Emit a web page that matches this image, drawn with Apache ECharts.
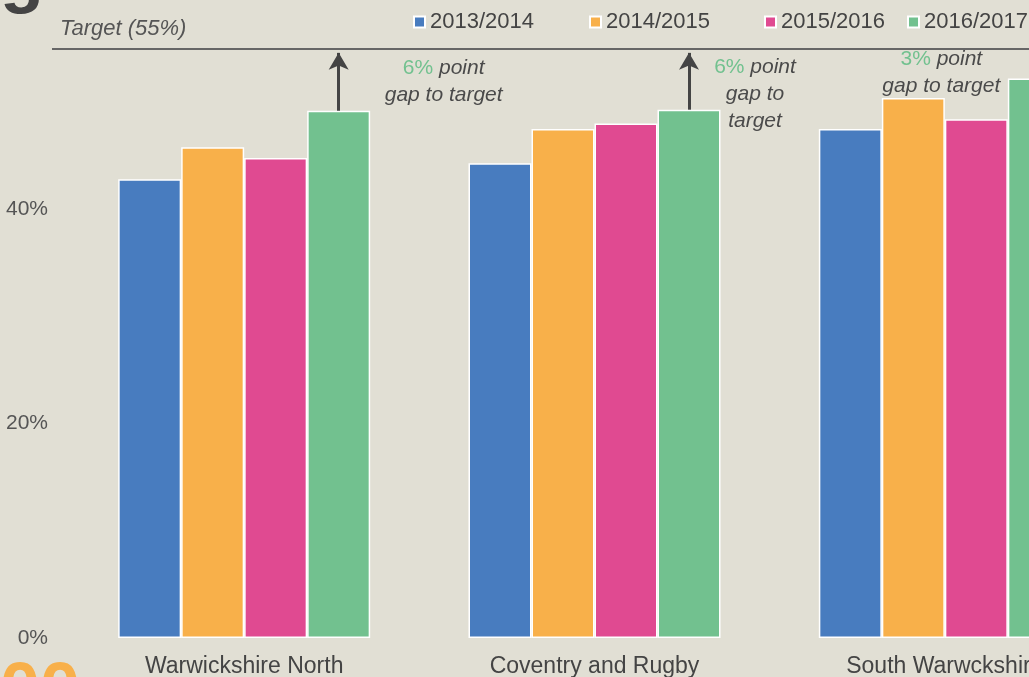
<!DOCTYPE html>
<html>
<head>
<meta charset="utf-8">
<script src="https://cdn.jsdelivr.net/npm/echarts@6/dist/echarts.min.js"></script>
<style>
html, body { margin: 0; padding: 0; background: #E1DFD4; }
#container { width: 1029px; height: 677px; }
</style>
</head>
<body>
<div id="container"></div>
<script>
var categories = ['Warwickshire North', 'Coventry and Rugby', 'South Warwckshire'];
var years = ['2013/2014', '2014/2015', '2015/2016', '2016/2017'];
var y2013 = [42.8, 44.3, 47.5];
var y2014 = [45.8, 47.5, 50.4];
var y2015 = [44.8, 48.0, 48.4];
var y2016 = [49.2, 49.3, 52.2];
var target = 55;
var gapText = ['{g|6%} point\ngap to target', '{g|6%} point\ngap to\ntarget', '{g|3%} point\ngap to target'];
var colors = ['#487CBF', '#F8B04A', '#E04A91', '#72C18F'];

var dom = document.getElementById("container");
var myChart = echarts.init(dom);
var font = 'Liberation Sans, Arial, sans-serif';

// arrows from the green bar up to the target line
var arrows = [];
var notes = [];
var noteOffsets = [[105, 33], [66, 46], [-98, 24]];
for (var i = 0; i < categories.length; i++) {
    arrows.push([
        { coord: [categories[i], y2016[i]] },
        { coord: [categories[i], target - 0.4] }
    ]);
    notes.push({
        coord: [categories[i], target],
        symbolSize: 0,
        label: { formatter: gapText[i], offset: noteOffsets[i] }
    });
}

var values = [y2013, y2014, y2015, y2016];
var series = [];
for (var s = 0; s < years.length; s++) {
    series.push({
        name: years[s],
        type: 'bar',
        data: values[s],
        barWidth: 63,
        barGap: '0%',
        clip: false,
        itemStyle: { color: colors[s], borderColor: '#fff', borderWidth: 1.5 }
    });
}

series[0].markLine = {
    silent: true,
    symbol: 'none',
    animation: false,
    lineStyle: { color: '#666', width: 2, type: 'solid' },
    label: {
        show: true,
        position: 'insideStartTop',
        distance: [8, 9],
        formatter: 'Target (55%)',
        fontFamily: font,
        fontSize: 22,
        fontStyle: 'italic',
        color: '#555'
    },
    data: [[
        { coord: [0, target], x: 52 },
        { coord: [2, target], x: 1029 }
    ]]
};

series[3].markLine = {
    silent: true,
    symbol: ['none', 'arrow'],
    symbolSize: [15, 17],
    animation: false,
    lineStyle: { color: '#444', width: 3, type: 'solid' },
    label: { show: false },
    data: arrows
};

series[3].markPoint = {
    silent: true,
    symbol: 'circle',
    animation: false,
    label: {
        show: true,
        position: 'inside',
        fontFamily: font,
        fontSize: 21,
        fontStyle: 'italic',
        color: '#4a4a4a',
        lineHeight: 27,
        rich: {
            g: { color: '#72C18F', fontStyle: 'normal', fontFamily: font, fontSize: 21, lineHeight: 27 }
        }
    },
    data: notes
};

// one legend per year so each entry sits where it does in the picture
var legendLeft = [413, 589, 764, 907];
var legends = [];
for (var k = 0; k < years.length; k++) {
    legends.push({
        data: [years[k]],
        left: legendLeft[k],
        top: 11,
        padding: 0,
        itemWidth: 11,
        itemHeight: 11,
        icon: 'rect',
        textStyle: { fontFamily: font, fontSize: 22, color: '#444' }
    });
}

option = {
    backgroundColor: '#E1DFD4',
    animation: false,
    title: [
        { text: 'g', left: -5, top: -62, textStyle: { fontFamily: font, fontSize: 72, fontWeight: 'bold', color: '#444' } },
        { text: '00', left: -5, top: 652, textStyle: { fontFamily: font, fontSize: 72, fontWeight: 'bold', color: '#F8B04A' } }
    ],
    legend: legends,
    grid: { left: 69, top: -5, right: -91, bottom: 39, outerBoundsMode: 'none', containLabel: false },
    xAxis: {
        type: 'category',
        data: categories,
        axisLine: { show: false },
        axisTick: { show: false },
        axisLabel: { margin: 17, fontFamily: font, fontSize: 23, color: '#444', interval: 0 }
    },
    yAxis: {
        type: 'value',
        min: 0,
        max: 60,
        interval: 20,
        splitLine: { show: false },
        axisLine: { show: false },
        axisTick: { show: false },
        axisLabel: {
            margin: 21,
            showMaxLabel: false,
            fontFamily: font,
            fontSize: 21,
            color: '#555',
            formatter: '{value}%'
        }
    },
    series: series
};

if (option && typeof option === "object") {
    myChart.setOption(option, true);
}
</script>
</body>
</html>
